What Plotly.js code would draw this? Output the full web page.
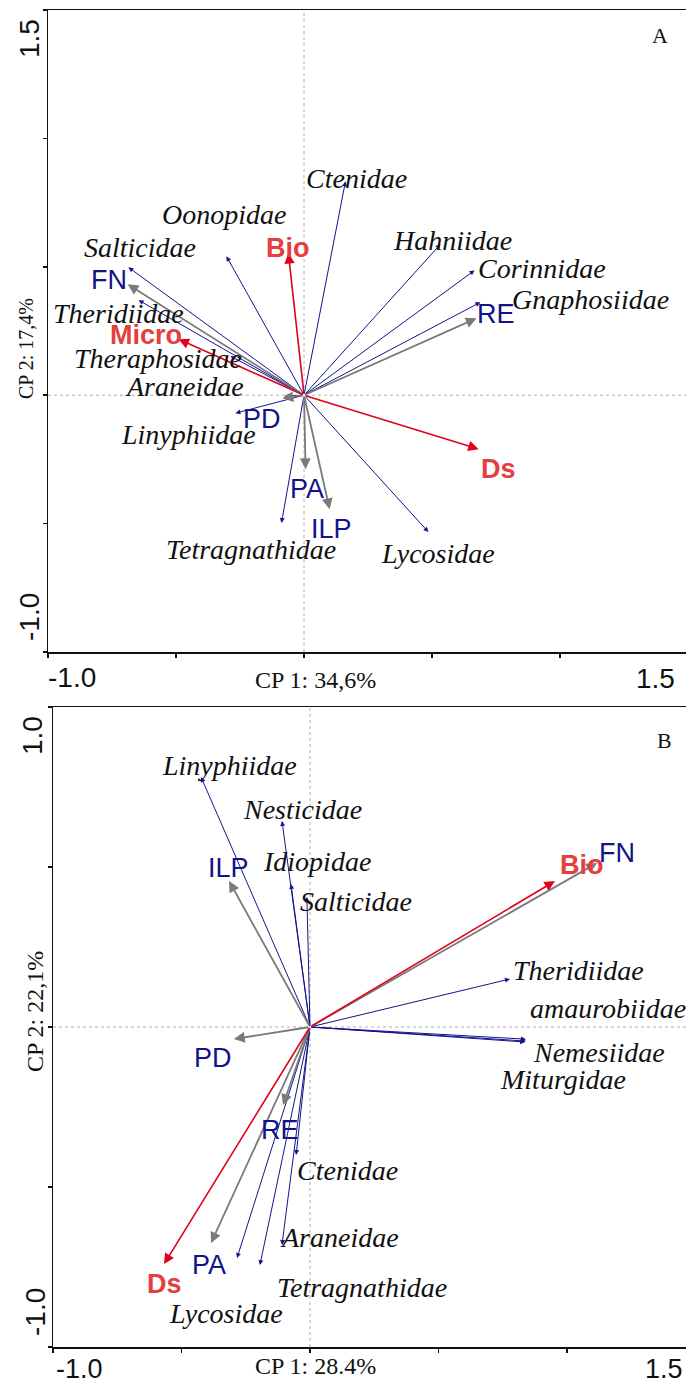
<!DOCTYPE html>
<html>
<head>
<meta charset="utf-8">
<script src="https://cdn.plot.ly/plotly-3.0.1.min.js"></script>
<style>html,body{margin:0;padding:0;background:#fff;}#chart{width:686px;height:1385px;}</style>
</head>
<body>
<div id="chart"></div>
<script>
// ---------- DATA (panel A) ----------
const speciesA = ['Ctenidae','Oonopidae','Hahniidae','Corinnidae','Gnaphosiidae','Salticidae','Theridiidae','Theraphosidae','Araneidae','Linyphiidae','Tetragnathidae','Lycosidae'];
const speciesA_cp1 = [0.162,-0.303,0.533,0.666,0.689,-0.686,-0.646,-0.287,-0.076,-0.268,-0.088,0.486];
const speciesA_cp2 = [0.833,0.541,0.588,0.486,0.362,0.498,0.370,0.152,-0.004,-0.070,-0.498,-0.533];
const envA = ['FN','RE','PD','PA','ILP'];
const envA_cp1 = [-0.689,0.674,-0.084,0.006,0.100];
const envA_cp2 = [0.432,0.300,-0.012,-0.288,-0.444];
const suppA = ['Bio','Micro','Ds'];
const suppA_cp1 = [-0.061,-0.490,0.682];
const suppA_cp2 = [0.553,0.218,-0.210];
const axisTitlesA = ['CP 1: 34,6%','CP 2: 17,4%'];

// ---------- DATA (panel B) ----------
const speciesB = ['Linyphiidae','Nesticidae','Idiopidae','Salticidae','Theridiidae','amaurobiidae','Nemesiidae','Miturgidae','Ctenidae','Araneidae','Tetragnathidae','Lycosidae'];
const speciesB_cp1 = [-0.424,-0.109,-0.074,-0.012,0.778,0.840,0.840,0.837,-0.054,-0.109,-0.195,-0.284];
const speciesB_cp2 = [0.781,0.644,0.447,0.406,0.150,-0.038,-0.044,-0.047,-0.400,-0.681,-0.744,-0.722];
const envB = ['FN','ILP','PD','RE','PA'];
const envB_cp1 = [1.117,-0.315,-0.296,-0.105,-0.385];
const envB_cp2 = [0.5125,0.456,-0.0375,-0.244,-0.675];
const suppB = ['Bio','Ds'];
const suppB_cp1 = [0.953,-0.568];
const suppB_cp2 = [0.456,-0.741];
const axisTitlesB = ['CP 1: 28.4%','CP 2: 22,1%'];

// ---------- LAYOUT / STYLE (label offsets in px: [right, down]) ----------
const offA = {
  species:{Ctenidae:[11,-3],Oonopidae:[-2,-42],Hahniidae:[12,-4],Corinnidae:[67,-2],Gnaphosiidae:[110,-3],Salticidae:[12,-20],Theridiidae:[-20,13],Theraphosidae:[-73,2],Araneidae:[-100,-10],Linyphiidae:[-47,21],Tetragnathidae:[-30,26],Lycosidae:[10,21]},
  env:{FN:[-19,-4],RE:[19,-4],PD:[-21,21],PA:[1,20],ILP:[2,20]},
  supp:{Bio:[0,-5],Micro:[-33,-4],Ds:[20,20]}
};
const offB = {
  species:{Linyphiidae:[28,-12],Nesticidae:[21,-11],Idiopidae:[26,-22],Salticidae:[49,4],Theridiidae:[69,-9],amaurobiidae:[82,-31],Nemesiidae:[73,11],Miturgidae:[38,37],Ctenidae:[51,15],Araneidae:[58,-7],Tetragnathidae:[102,22],Lycosidae:[-11,55]},
  env:{FN:[20,-10],ILP:[-1,-13],PD:[-21,19],RE:[-3,25],PA:[-2,22]},
  supp:{Bio:[27,-16],Ds:[0,20]}
};

const W = 686, H = 1385;
const px = v => v / W;
const py = v => 1 - v / H;

const C_SPEC = '#14148c', C_ENV = '#7a7a7a', C_SUPP = '#e0001a';
const C_ENV_TXT = '#12128a', C_SUPP_TXT = '#e53e3e';
const SERIF = 'Liberation Serif, Times New Roman, serif';
const SANS = 'Liberation Sans, Arial, sans-serif';

const annotations = [];
const shapes = [];

function arrows(xr, yr, xs, ys, color, width, size) {
  xs.forEach((x, i) => {
    annotations.push({
      xref: xr, yref: yr, axref: xr, ayref: yr,
      x: x, y: ys[i], ax: 0, ay: 0, text: '', showarrow: true,
      arrowhead: 2, arrowsize: size, arrowwidth: width, arrowcolor: color, standoff: 0
    });
  });
}
function labels(xr, yr, names, xs, ys, offs, font) {
  names.forEach((n, i) => {
    const o = offs[n] || [0, 0];
    annotations.push({
      xref: xr, yref: yr, x: xs[i], y: ys[i], xshift: o[0], yshift: -o[1],
      text: font.pre + n + font.post, showarrow: false, xanchor: 'center', yanchor: 'middle',
      font: {family: font.family, size: font.size, color: font.color}
    });
  });
}
const fSpec = {family: SERIF, size: 28, color: '#111', pre: '<i>', post: '</i>'};
const fEnv = {family: SANS, size: 27, color: C_ENV_TXT, pre: '', post: ''};
const fSupp = {family: SANS, size: 27, color: C_SUPP_TXT, pre: '<b>', post: '</b>'};

function panel(xr, yr, d) {
  const xd = xr === 'x' ? 'x domain' : 'x2 domain';
  const yd = yr === 'y' ? 'y domain' : 'y2 domain';
  shapes.push({type:'line', xref:xr, yref:yd, x0:0, x1:0, y0:0, y1:1, line:{color:'#b0b0b0', width:1, dash:'dot'}});
  shapes.push({type:'line', xref:xd, yref:yr, x0:0, x1:1, y0:0, y1:0, line:{color:'#b0b0b0', width:1, dash:'dot'}});
  arrows(xr, yr, d.sx, d.sy, C_SPEC, 1, 1);
  arrows(xr, yr, d.ex, d.ey, C_ENV, 1.8, 1.2);
  arrows(xr, yr, d.ux, d.uy, C_SUPP, 1.6, 1.3);
  labels(xr, yr, d.s, d.sx, d.sy, d.off.species, fSpec);
  labels(xr, yr, d.e, d.ex, d.ey, d.off.env, fEnv);
  labels(xr, yr, d.u, d.ux, d.uy, d.off.supp, fSupp);
}
panel('x', 'y', {s:speciesA, sx:speciesA_cp1, sy:speciesA_cp2, e:envA, ex:envA_cp1, ey:envA_cp2, u:suppA, ux:suppA_cp1, uy:suppA_cp2, off:offA});
panel('x2', 'y2', {s:speciesB, sx:speciesB_cp1, sy:speciesB_cp2, e:envB, ex:envB_cp1, ey:envB_cp2, u:suppB, ux:suppB_cp1, uy:suppB_cp2, off:offB});

// static texts: tick end labels, axis titles, panel letters
function txt(x, y, t, font, opts) {
  annotations.push(Object.assign({xref:'paper', yref:'paper', x:px(x), y:py(y), text:t, showarrow:false,
    xanchor:'center', yanchor:'middle', font:font}, opts || {}));
}
const fTick = {family: SANS, size: 28, color: '#111'};
const fTickB = {family: SANS, size: 27, color: '#111'};
const fTitle = {family: SERIF, size: 24, color: '#111'};
const fTitleSmall = {family: SERIF, size: 20, color: '#111'};
const fLetter = {family: SERIF, size: 22, color: '#111'};
// Panel A
txt(72, 677, '-1.0', fTick);
txt(655, 678, '1.5', fTick);
txt(30, 39, '1.5', fTick, {textangle:-90});
txt(29, 617, '-1.0', fTick, {textangle:-90});
txt(315, 680, axisTitlesA[0], fTitle);
txt(26, 349, axisTitlesA[1], fTitleSmall, {textangle:-90});
txt(660, 35, 'A', fLetter);
// Panel B
txt(79, 1385, '-1.0', fTickB, {yanchor:'bottom', borderpad:0});
txt(664, 1385, '1.5', fTickB, {yanchor:'bottom', borderpad:0});
txt(32, 736, '1.0', fTick, {textangle:-90});
txt(35, 1312, '-1.0', fTick, {textangle:-90});
txt(315, 1366, axisTitlesB[0], fTitle);
txt(35, 1012, axisTitlesB[1], fTitle, {textangle:-90});
txt(664, 740, 'B', fLetter);

const axBase = {showline:true, linecolor:'#111', linewidth:1.5, ticks:'outside', ticklen:4, tickwidth:1.5,
  tickcolor:'#111', showticklabels:false, showgrid:false, zeroline:false, fixedrange:true};

const layout = {
  width: W, height: H, margin:{l:0, r:0, t:0, b:0}, showlegend:false,
  paper_bgcolor:'#fff', plot_bgcolor:'#fff',
  xaxis: Object.assign({}, axBase, {domain:[px(48), 1], range:[-1, 1.492], anchor:'y', mirror:true, tickvals:[-1,-0.5,0,0.5,1]}),
  yaxis: Object.assign({}, axBase, {domain:[py(652), py(10)], range:[-1, 1.5], anchor:'x', tickvals:[-1,-0.5,0,0.5,1,1.5]}),
  xaxis2: Object.assign({}, axBase, {domain:[px(53), 1], range:[-1, 1.463], anchor:'y2', mirror:true, tickvals:[-1,-0.5,0,0.5,1]}),
  yaxis2: Object.assign({}, axBase, {domain:[py(1347), py(707)], range:[-1, 1], anchor:'x2', tickvals:[-1,-0.5,0,0.5,1]}),
  shapes: shapes,
  annotations: annotations
};

const traces = [
  {type:'scatter', x:[0], y:[0], xaxis:'x', yaxis:'y', mode:'markers', marker:{opacity:0}, hoverinfo:'skip'},
  {type:'scatter', x:[0], y:[0], xaxis:'x2', yaxis:'y2', mode:'markers', marker:{opacity:0}, hoverinfo:'skip'}
];

Plotly.newPlot('chart', traces, layout, {displayModeBar:false, staticPlot:true});
</script>
</body>
</html>
